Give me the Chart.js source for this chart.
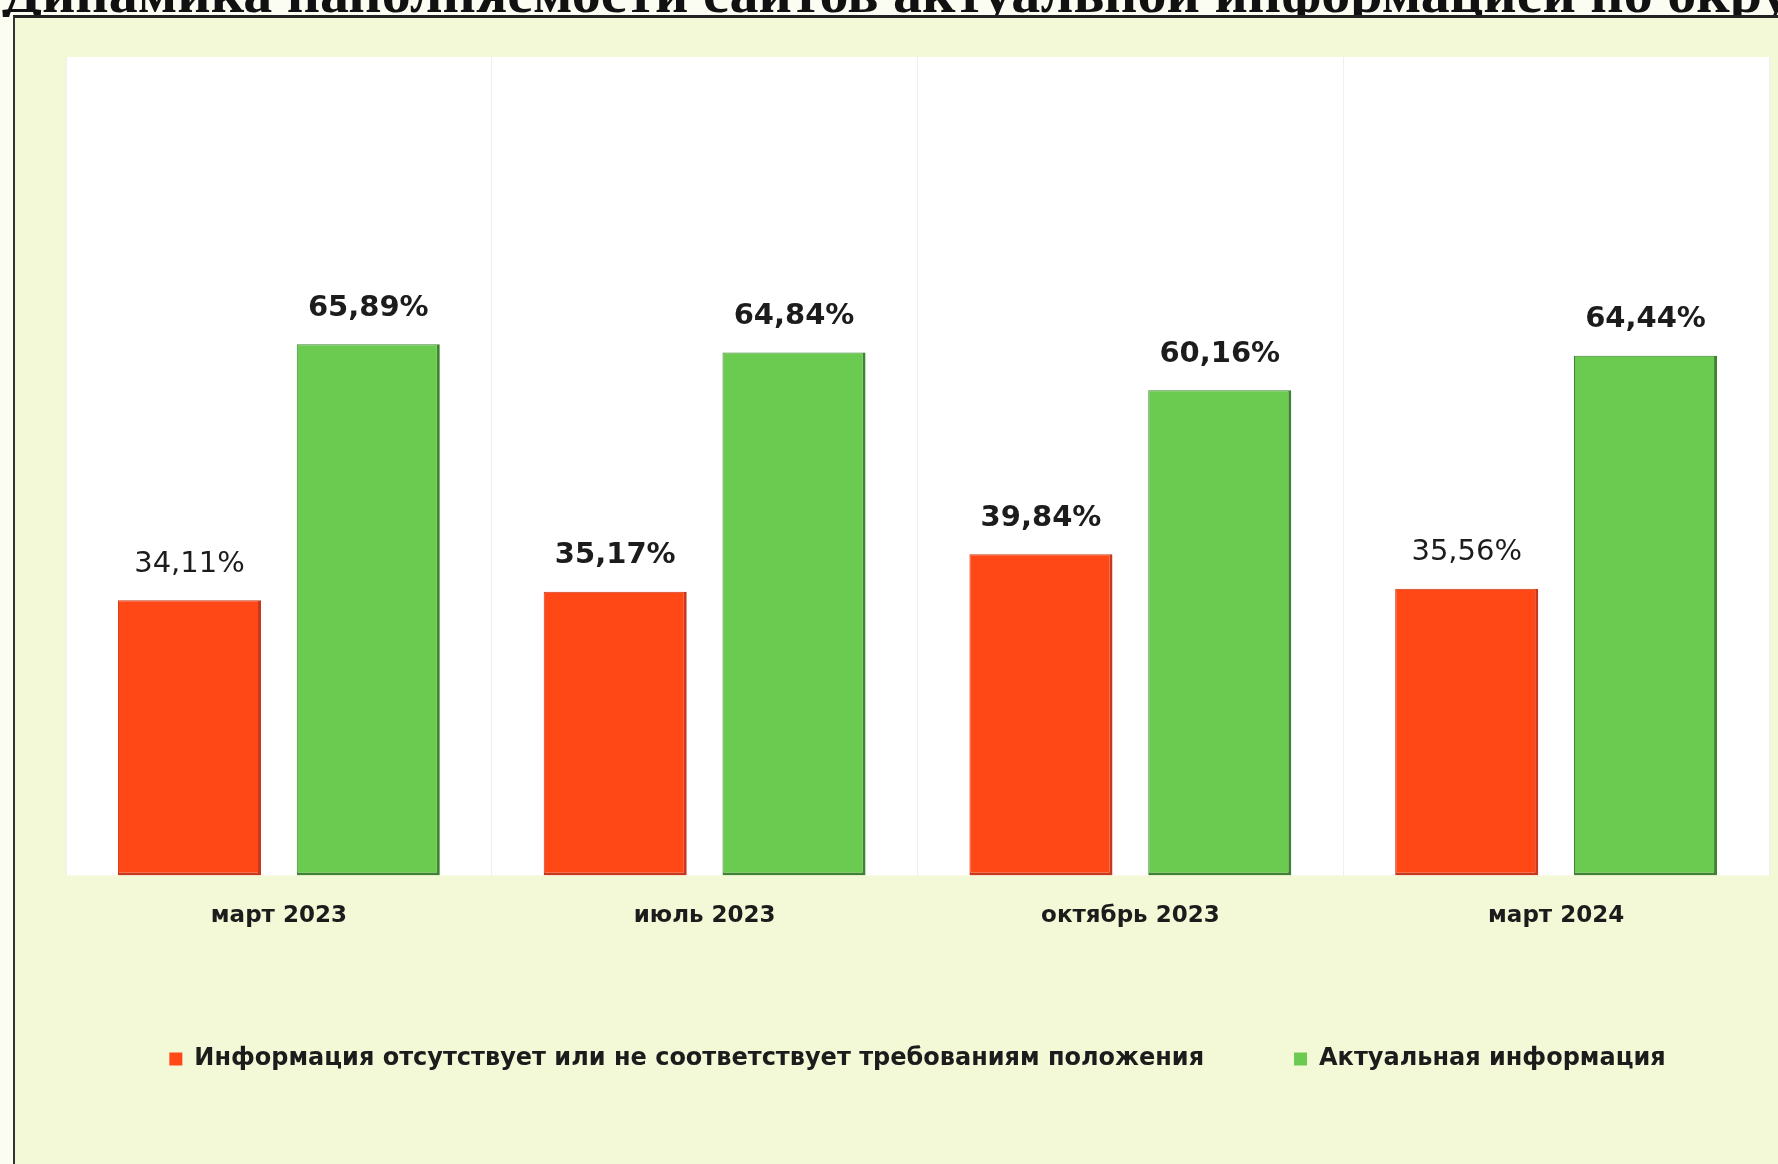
<!DOCTYPE html>
<html lang="ru">
<head>
<meta charset="utf-8">
<script src="https://cdn.jsdelivr.net/npm/chart.js@4.4.1/dist/chart.umd.min.js"></script>
<style>
  html, body { margin: 0; padding: 0; background: #fbfdf3; overflow: hidden; }
  body { width: 1778px; height: 1164px; position: relative; }
  #title {
    position: absolute; left: 0; top: 0; width: 1778px; height: 17px; overflow: hidden;
  }
  #title span {
    position: absolute; left: 2px; top: -36px; white-space: nowrap;
    font-family: "Liberation Serif", serif; font-weight: bold; font-size: 58px; line-height: 58px; color: #111;
  }
  #frame {
    position: absolute; left: 13px; top: 15px; width: 1770px; height: 1160px;
    border-top: 3px solid #222; border-left: 2px solid #333; background: #f3f8d6;
  }
  #wrap { position: absolute; left: 15px; top: 18px; width: 1763px; height: 1146px; }
</style>
</head>
<body>
<div id="title"><span>Динамика наполняемости сайтов актуальной информацией по округу</span></div>
<div id="frame"></div>
<div id="wrap"><canvas id="sitesChart"></canvas></div>
<script>
const periods = ["март 2023", "июль 2023", "октябрь 2023", "март 2024"];
const seriesNames = ["Информация отсутствует или не соответствует требованиям положения", "Актуальная информация"];
const missingInfo = [34.11, 35.17, 39.84, 35.56];
const actualInfo = [65.89, 64.84, 60.16, 64.44];

const FONT = "'DejaVu Sans', sans-serif";

// white plot area
const plotBackground = {
    id: "plotBackground",
    beforeDraw(chart) {
        const {ctx, chartArea} = chart;
        ctx.save();
        ctx.fillStyle = "#ffffff";
        ctx.fillRect(chartArea.left, chartArea.top, chartArea.right - chartArea.left, chartArea.bottom - chartArea.top);
        ctx.restore();
    }
};

// value labels above bars
const barLabels = {
    id: "barLabels",
    afterDatasetsDraw(chart) {
        const ctx = chart.ctx;
        ctx.save();
        ctx.textAlign = "center";
        ctx.textBaseline = "middle";
        ctx.fillStyle = "#1c1c1c";
        chart.data.datasets.forEach((ds, di) => {
            chart.getDatasetMeta(di).data.forEach((bar, i) => {
                const light = di === 0 && (i === 0 || i === 3);
                ctx.font = (light ? "normal " : "bold ") + "29px " + FONT;
                const text = ds.data[i].toFixed(2).replace(".", ",") + "%";
                ctx.fillText(text, bar.x, bar.y - 36);
            });
        });
        ctx.restore();
    }
};

const canvasElement = document.getElementById("sitesChart");
const sitesChart = new Chart(canvasElement, {
    type: "bar",
    data: {
        labels: periods,
        datasets: [{
            label: seriesNames[0],
            data: missingInfo,
            backgroundColor: "#ff4816",
            borderColor: "#c8381a",
            borderWidth: {top: 1, left: 1, right: 3, bottom: 3},
            borderSkipped: false
        }, {
            label: seriesNames[1],
            data: actualInfo,
            backgroundColor: "#6acb50",
            borderColor: "#3f8232",
            borderWidth: {top: 1, left: 1, right: 3, bottom: 3},
            borderSkipped: false
        }]
    },
    options: {
        responsive: true,
        maintainAspectRatio: false,
        animation: false,
        datasets: {bar: {categoryPercentage: 0.84, barPercentage: 0.8}},
        layout: {padding: {left: 51, right: 9, top: 39, bottom: 83}},
        scales: {
            x: {
                grid: {color: "#efefef", drawTicks: false},
                border: {display: false},
                ticks: {
                    color: "#1c1c1c",
                    padding: 27,
                    font: {family: FONT, weight: "bold", size: 23}
                }
            },
            y: {display: false, min: 0, max: 101.5}
        },
        plugins: {
            tooltip: {enabled: false},
            legend: {
                position: "bottom",
                labels: {
                    color: "#1c1c1c",
                    boxWidth: 13,
                    boxHeight: 13,
                    padding: 90,
                    font: {family: FONT, weight: "bold", size: 24},
                    generateLabels: (chart) => chart.data.datasets.map((ds, i) => ({
                        text: ds.label,
                        fillStyle: ds.backgroundColor,
                        strokeStyle: ds.backgroundColor,
                        lineWidth: 0,
                        fontColor: "#1c1c1c",
                        datasetIndex: i
                    }))
                }
            }
        }
    },
    plugins: [plotBackground, barLabels]
});
</script>
</body>
</html>
